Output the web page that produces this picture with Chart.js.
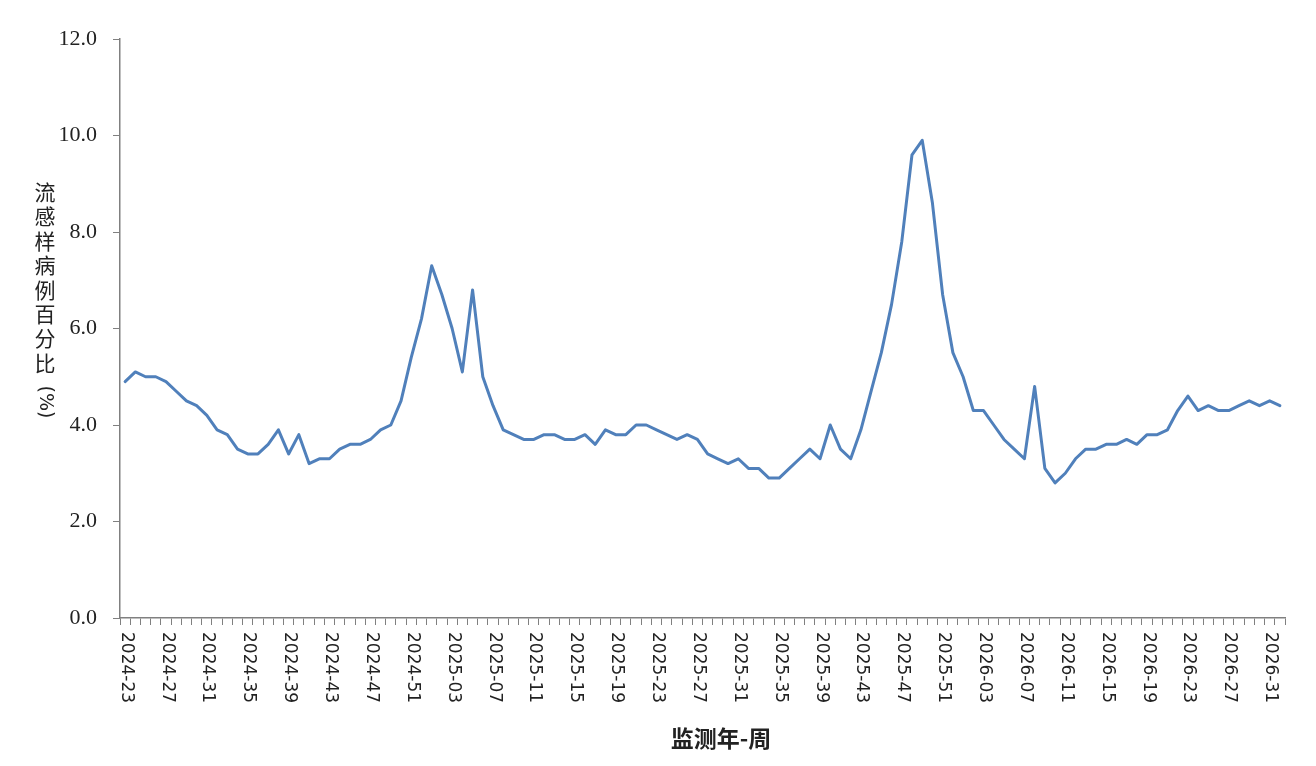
<!DOCTYPE html>
<html>
<head>
<meta charset="utf-8">
<script src="https://cdn.jsdelivr.net/npm/chart.js@4.4.1/dist/chart.umd.min.js"></script>
<style>
  html, body { margin: 0; padding: 0; background: #fff; }
</style>
</head>
<body>
<canvas id="myChart" width="1316" height="766"></canvas>
<script>
// surveillance weeks (year-week)
const weeks2024 = ['2024-23','2024-24','2024-25','2024-26','2024-27','2024-28','2024-29','2024-30','2024-31','2024-32',
  '2024-33','2024-34','2024-35','2024-36','2024-37','2024-38','2024-39','2024-40','2024-41','2024-42',
  '2024-43','2024-44','2024-45','2024-46','2024-47','2024-48','2024-49','2024-50','2024-51','2024-52'];
const weeks2025 = ['2025-01','2025-02','2025-03','2025-04','2025-05','2025-06','2025-07','2025-08','2025-09','2025-10',
  '2025-11','2025-12','2025-13','2025-14','2025-15','2025-16','2025-17','2025-18','2025-19','2025-20',
  '2025-21','2025-22','2025-23','2025-24','2025-25','2025-26','2025-27','2025-28','2025-29','2025-30',
  '2025-31','2025-32','2025-33','2025-34','2025-35','2025-36','2025-37','2025-38','2025-39','2025-40',
  '2025-41','2025-42','2025-43','2025-44','2025-45','2025-46','2025-47','2025-48','2025-49','2025-50',
  '2025-51','2025-52'];
const weeks2026 = ['2026-01','2026-02','2026-03','2026-04','2026-05','2026-06','2026-07','2026-08','2026-09','2026-10',
  '2026-11','2026-12','2026-13','2026-14','2026-15','2026-16','2026-17','2026-18','2026-19','2026-20',
  '2026-21','2026-22','2026-23','2026-24','2026-25','2026-26','2026-27','2026-28','2026-29','2026-30',
  '2026-31','2026-32'];
const weekLabels = weeks2024.concat(weeks2025, weeks2026);

// ILI percentage (%)
const iliPercent = [
  4.9, 5.1, 5.0, 5.0, 4.9, 4.7, 4.5, 4.4, 4.2, 3.9,
  3.8, 3.5, 3.4, 3.4, 3.6, 3.9, 3.4, 3.8, 3.2, 3.3,
  3.3, 3.5, 3.6, 3.6, 3.7, 3.9, 4.0, 4.5, 5.4, 6.2,
  7.3, 6.7, 6.0, 5.1, 6.8, 5.0, 4.4, 3.9, 3.8, 3.7,
  3.7, 3.8, 3.8, 3.7, 3.7, 3.8, 3.6, 3.9, 3.8, 3.8,
  4.0, 4.0, 3.9, 3.8, 3.7, 3.8, 3.7, 3.4, 3.3, 3.2,
  3.3, 3.1, 3.1, 2.9, 2.9, 3.1, 3.3, 3.5, 3.3, 4.0,
  3.5, 3.3, 3.9, 4.7, 5.5, 6.5, 7.8, 9.6, 9.9, 8.6,
  6.7, 5.5, 5.0, 4.3, 4.3, 4.0, 3.7, 3.5, 3.3, 4.8,
  3.1, 2.8, 3.0, 3.3, 3.5, 3.5, 3.6, 3.6, 3.7, 3.6,
  3.8, 3.8, 3.9, 4.3, 4.6, 4.3, 4.4, 4.3, 4.3, 4.4,
  4.5, 4.4, 4.5, 4.4
];

const yTicks = [0, 2, 4, 6, 8, 10, 12];
const yTitleChars = ['流','感','样','病','例','百','分','比'];
const yTitleUnit = '(%)';
const xTitle = '监测年-周';

const textColor = '#222';
const axisColor = '#808080';

// labels on the x axis read top-to-bottom, Chart.js only rotates the other way, so draw them here
const axisText = {
  id: 'axisText',
  afterDraw(chart) {
    const ctx = chart.ctx;
    const xs = chart.scales.x, ys = chart.scales.y;
    ctx.save();
    ctx.fillStyle = textColor;
    ctx.font = '17px "DejaVu Sans"';
    ctx.textAlign = 'left';
    ctx.textBaseline = 'middle';
    weekLabels.forEach(function (lab, i) {
      if (i % 4 !== 0) return;
      ctx.save();
      ctx.translate(xs.getPixelForValue(i) + 1, ys.bottom + 14);
      ctx.rotate(Math.PI / 2);
      ctx.fillText(lab, 0, 0);
      ctx.restore();
    });

    // vertical y title
    ctx.font = '21px "Noto Sans CJK SC"';
    ctx.textAlign = 'center';
    yTitleChars.forEach(function (ch, k) {
      ctx.fillText(ch, 45, 192 + k * 24.4);
    });
    ctx.save();
    ctx.translate(45, 402);
    ctx.rotate(Math.PI / 2);
    ctx.font = '19px "DejaVu Sans"';
    ctx.fillText(yTitleUnit, 0, 0);
    ctx.restore();

    // x title
    ctx.font = 'bold 23px "Noto Sans CJK SC"';
    ctx.fillText(xTitle, 721, 738);
    ctx.restore();
  }
};

const ctx = document.getElementById('myChart');

let chart = new Chart(ctx, {
  type: 'line',
  data: {
    labels: weekLabels,
    datasets: [{
      label: '流感样病例百分比',
      data: iliPercent,
      borderColor: '#5080bb',
      borderWidth: 3,
      borderJoinStyle: 'round',
      borderCapStyle: 'round',
      pointRadius: 0,
      tension: 0,
      fill: false
    }]
  },
  options: {
    responsive: false,
    animation: false,
    layout: { padding: { top: 39, right: 31, left: 0, bottom: 0 } },
    plugins: {
      legend: { display: false },
      tooltip: { enabled: false }
    },
    scales: {
      x: {
        type: 'category',
        offset: true,
        grid: { offset: true, drawOnChartArea: false, drawTicks: true, tickLength: 7, color: axisColor },
        border: { color: axisColor, width: 1.5 },
        ticks: { display: false },
        afterFit(scale) { scale.height = 148; }
      },
      y: {
        min: 0,
        max: 12,
        afterBuildTicks(scale) { scale.ticks = yTicks.map(v => ({ value: v })); },
        ticks: {
          callback: v => v.toFixed(1),
          font: { family: '"Liberation Serif"', size: 22 },
          color: textColor,
          padding: 16
        },
        grid: { drawOnChartArea: false, drawTicks: true, tickLength: 7, color: axisColor },
        border: { color: axisColor, width: 1.5 },
        afterFit(scale) { scale.width = 120; }
      }
    }
  },
  plugins: [axisText]
});
</script>
</body>
</html>
